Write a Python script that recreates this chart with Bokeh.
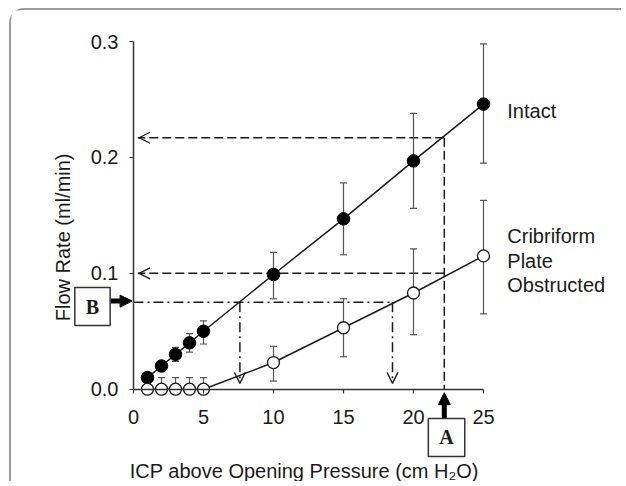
import math
from bokeh.plotting import figure
from bokeh.models import Range1d, FixedTicker, Label, Arrow, OpenHead, NormalHead, NumeralTickFormatter
from bokeh.embed import file_html
from bokeh.resources import INLINE

# ---- data ----
pressure = [1, 2, 3, 4, 5, 10, 15, 20, 25]
intact_flow = [0.010, 0.020, 0.030, 0.040, 0.050, 0.099, 0.147, 0.197, 0.246]
intact_lo = [0.010, 0.020, 0.024, 0.032, 0.039, 0.078, 0.116, 0.156, 0.195]
intact_hi = [0.010, 0.020, 0.036, 0.048, 0.059, 0.118, 0.178, 0.238, 0.298]
obstructed_flow = [0.0, 0.0, 0.0, 0.0, 0.0, 0.023, 0.053, 0.083, 0.115]
obstructed_lo = [0.0, 0.0, 0.0, 0.0, 0.0, 0.007, 0.028, 0.047, 0.065]
obstructed_hi = [0.010, 0.010, 0.010, 0.010, 0.010, 0.037, 0.078, 0.121, 0.163]

x_ticks = [0, 5, 10, 15, 20, 25]
y_ticks = [0.0, 0.1, 0.2, 0.3]

# reference construction (point A / point B)
pressure_A = 22.2
flow_intact_A = 0.217
flow_obstructed_A = 0.100
flow_B = 0.075
pressure_B_intact = 7.6
pressure_B_obstructed = 18.5

FONT = "Liberation Sans"
INK = "#1a1a1a"

p = figure(width=612, height=473,
           x_range=Range1d(-8.714, 35.0), y_range=Range1d(-0.0814, 0.3268),
           min_border=0, min_border_left=0, min_border_right=0, min_border_top=0, min_border_bottom=0,
           output_backend="svg", toolbar_location=None)
p.styles = {"margin-left": "9px", "margin-top": "8px",
            "border-top": "2px solid #9a9a9a", "border-left": "2px solid #9a9a9a",
            "border-top-left-radius": "15px"}
p.xgrid.visible = False
p.ygrid.visible = False
p.outline_line_color = None
p.background_fill_color = "white"
p.border_fill_color = "white"

# axes drawn at data zero
for ax in (p.xaxis[0], p.yaxis[0]):
    ax.fixed_location = 0
    ax.axis_line_color = "#333333"
    ax.axis_line_width = 1.5
    ax.major_tick_line_color = "#333333"
    ax.major_tick_line_width = 1.2
    ax.major_tick_out = 4
    ax.major_tick_in = 0
    ax.minor_tick_line_color = None
    ax.major_label_text_font = FONT
    ax.major_label_text_font_size = "20px"
    ax.major_label_text_color = INK
p.xaxis[0].ticker = FixedTicker(ticks=x_ticks)
p.xaxis[0].bounds = (0, 25)
p.xaxis[0].major_label_standoff = 17
p.yaxis[0].ticker = FixedTicker(ticks=y_ticks)
p.yaxis[0].bounds = (0, 0.3)
p.yaxis[0].formatter = NumeralTickFormatter(format="0.0")
p.yaxis[0].major_label_standoff = 11

# dashed reference lines (A)
p.segment(x0=[pressure_A, pressure_A, pressure_A], y0=[flow_intact_A, flow_obstructed_A, flow_intact_A],
          x1=[0.3, 0.3, pressure_A], y1=[flow_intact_A, flow_obstructed_A, 0],
          line_color=INK, line_width=1.5, line_dash="9 4")
# dash-dot reference lines (B)
p.segment(x0=[0, pressure_B_intact, pressure_B_obstructed], y0=[flow_B, flow_B, flow_B],
          x1=[pressure_B_obstructed, pressure_B_intact, pressure_B_obstructed], y1=[flow_B, 0.006, 0.006],
          line_color=INK, line_width=1.5, line_dash="10 4 2 4")

# error bars
eb_col = "#555555"
p.segment(x0=pressure, y0=intact_lo, x1=pressure, y1=intact_hi, line_color=eb_col, line_width=1.2)
p.segment(x0=pressure, y0=obstructed_lo, x1=pressure, y1=obstructed_hi, line_color=eb_col, line_width=1.2)
p.scatter(pressure + pressure, intact_lo + intact_hi, marker="dash", size=7, line_color=eb_col, line_width=1.2)
p.scatter(pressure + pressure, obstructed_lo + obstructed_hi, marker="dash", size=7, line_color=eb_col, line_width=1.2)

# series lines and markers
p.line(pressure, intact_flow, line_color=INK, line_width=1.5)
p.line(pressure, obstructed_flow, line_color=INK, line_width=1.5)
p.scatter(pressure, intact_flow, marker="circle", size=12.5, fill_color="black", line_color="black")
p.scatter(pressure, obstructed_flow, marker="circle", size=12, fill_color="white", line_color=INK, line_width=1.3)

# open arrowheads on reference lines
for xs, ys, xe, ye in [(1.5, flow_intact_A, 0.4, flow_intact_A),
                       (1.5, flow_obstructed_A, 0.4, flow_obstructed_A),
                       (pressure_B_intact, 0.02, pressure_B_intact, 0.005),
                       (pressure_B_obstructed, 0.02, pressure_B_obstructed, 0.005)]:
    p.add_layout(Arrow(end=OpenHead(size=11, line_width=1.3, line_color=INK),
                       x_start=xs, y_start=ys, x_end=xe, y_end=ye, line_color=None))

# thick arrows from the boxes
p.add_layout(Arrow(end=NormalHead(size=12, fill_color="black", line_color="black"),
                   x_start=-1.64, y_start=flow_B + 0.001, x_end=-0.1, y_end=flow_B + 0.001,
                   line_width=5, line_color="black"))
p.add_layout(Arrow(end=NormalHead(size=12, fill_color="black", line_color="black"),
                   x_start=pressure_A, y_start=-0.026, x_end=pressure_A, y_end=-0.003,
                   line_width=5, line_color="black"))

# boxes
for txt, bx, by in [("B", -2.93, 0.0713), ("A", 22.36, -0.0417)]:
    p.add_layout(Label(x=bx, y=by, text=txt, text_font="Liberation Serif", text_font_style="bold",
                       text_font_size="20px", text_color=INK, text_align="center", text_baseline="middle",
                       border_line_color="#333333", border_line_width=1.5,
                       background_fill_color="white", padding=(11, 8)))

# series labels
for txt, ly in [("Intact", 0.240), ("Cribriform", 0.1326), ("Plate", 0.111), ("Obstructed", 0.090)]:
    p.add_layout(Label(x=26.7, y=ly, text=txt, text_font=FONT, text_font_size="20px",
                       text_color=INK, text_baseline="middle"))

# axis titles
p.add_layout(Label(x=12.2, y=-0.071, text="ICP above Opening Pressure (cm H\u2082O)", text_font=FONT,
                   text_font_size="20px", text_color=INK, text_align="center", text_baseline="middle"))
p.add_layout(Label(x=-5.0, y=0.131, text="Flow Rate (ml/min)", text_font=FONT, angle=math.pi / 2,
                   text_font_size="20px", text_color=INK, text_align="center", text_baseline="middle"))

open("out.html", "w").write(file_html(p, INLINE))
